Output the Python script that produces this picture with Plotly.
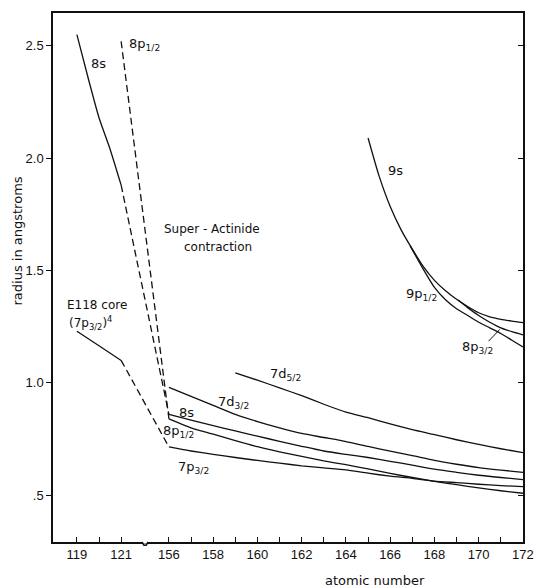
import plotly.graph_objects as go

# ---------------- data ----------------
# low-Z segment (E119-E121) and high-Z segment (E156-E172), axis is broken in between
s8_low_z = [119, 119.5, 120, 120.5, 121]
s8_low_r = [2.55, 2.36, 2.18, 2.04, 1.88]

p8_12_top_z = [121]
p8_12_top_r = [2.52]

core_z = [119, 120, 121]
core_r = [1.23, 1.165, 1.10]

hi_z = [156, 157, 158, 159, 160, 161, 162, 163, 164, 165, 166, 167, 168, 169, 170, 171, 172]
s8_r    = [0.86, 0.834, 0.81, 0.786, 0.763, 0.740, 0.718, 0.697, 0.682, 0.668, 0.651, 0.634, 0.616, 0.602, 0.589, 0.579, 0.570]
p8_12_r = [0.84, 0.80, 0.772, 0.743, 0.716, 0.693, 0.673, 0.653, 0.636, 0.617, 0.597, 0.579, 0.562, 0.547, 0.533, 0.520, 0.509]
p7_32_r = [0.715, 0.697, 0.682, 0.668, 0.655, 0.643, 0.631, 0.622, 0.613, 0.598, 0.585, 0.575, 0.563, 0.556, 0.549, 0.543, 0.538]
d7_32_r = [0.98, 0.94, 0.90, 0.86, 0.828, 0.80, 0.775, 0.757, 0.739, 0.717, 0.696, 0.676, 0.655, 0.638, 0.623, 0.612, 0.602]

d7_52_z = [159, 160, 161, 162, 163, 164, 165, 166, 167, 168, 169, 170, 171, 172]
d7_52_r = [1.045, 1.012, 0.978, 0.943, 0.905, 0.870, 0.845, 0.818, 0.792, 0.770, 0.747, 0.726, 0.707, 0.690]

s9_z = [165, 165.5, 166, 166.5, 167, 167.5, 168, 168.5, 169, 169.5, 170, 170.5, 171, 171.5, 172]
s9_r = [2.09, 1.92, 1.785, 1.68, 1.595, 1.517, 1.456, 1.41, 1.372, 1.34, 1.312, 1.294, 1.283, 1.275, 1.268]

p9_12_z = [166.9, 167.5, 168, 168.5, 169, 169.5, 170, 170.5, 171, 171.5, 172]
p9_12_r = [1.61, 1.505, 1.425, 1.37, 1.33, 1.30, 1.27, 1.245, 1.22, 1.19, 1.16]

p8_32_z = [169.07, 169.5, 170, 170.5, 171, 171.5, 172]
p8_32_r = [1.369, 1.335, 1.30, 1.27, 1.245, 1.228, 1.214]

x_label_z = [119, 121, 156, 158, 160, 162, 164, 166, 168, 170, 172]
x_label_text = ["119", "121", "156", "158", "160", "162", "164", "166", "168", "170", "172"]
x_minor_z = [119, 120, 121] + list(range(156, 173))
y_tick_vals = [0.5, 1.0, 1.5, 2.0, 2.5]
y_tick_labels = [".5", "1.0", "1.5", "2.0", "2.5"]

# ---------------- broken x axis mapping ----------------
GAP = 2.16  # axis units of empty space between 121 and 156


def xpos(z):
    if z <= 121:
        return z - 119
    return z - 156 + 2 + GAP


def X(zs):
    return [xpos(z) for z in zs]


BLACK = "#111111"
solid = dict(color=BLACK, width=1.3, shape="spline", smoothing=0.6)
dashed = dict(color=BLACK, width=1.3, dash="7px,4px")

fig = go.Figure()


def add(zs, rs, line):
    fig.add_trace(go.Scatter(x=X(zs), y=rs, mode="lines", line=line,
                             showlegend=False, hoverinfo="skip"))


# 8s
add(s8_low_z, s8_low_r, solid)
add([s8_low_z[-1], hi_z[0]], [s8_low_r[-1], s8_r[0]], dashed)
add(hi_z, s8_r, solid)
# 8p1/2
add([p8_12_top_z[0], hi_z[0]], [p8_12_top_r[0], p8_12_r[0]], dashed)
add(hi_z, p8_12_r, solid)
# E118 core -> 7p3/2
add(core_z, core_r, solid)
add([core_z[-1], hi_z[0]], [core_r[-1], p7_32_r[0]], dashed)
add(hi_z, p7_32_r, solid)
# 7d3/2, 7d5/2
add(hi_z, d7_32_r, solid)
add(d7_52_z, d7_52_r, solid)
# 9s, 9p1/2, 8p3/2
add(s9_z, s9_r, solid)
add(p9_12_z, p9_12_r, solid)
add(p8_32_z, p8_32_r, solid)

# invisible trace for the right-hand axis
fig.add_trace(go.Scatter(x=[xpos(172)], y=[1.0], yaxis="y2", mode="markers",
                         marker=dict(opacity=0), showlegend=False, hoverinfo="skip"))

FONT = "DejaVu Sans"
TICKFONT = "Liberation Sans"


def label(text, x, y, size=12, xanchor="center"):
    fig.add_annotation(text=text, x=x, y=y, xref="paper", yref="paper",
                       showarrow=False, xanchor=xanchor, yanchor="middle",
                       font=dict(family=FONT, size=size, color=BLACK))


label("8s", 0.096, 0.905, 13)
label("8p<sub>1/2</sub>", 0.157, 0.940, 13, xanchor="left")
label("Super - Actinide", 0.338, 0.591, 12)
label("contraction", 0.351, 0.557, 12)
label("E118 core", 0.094, 0.448, 12)
label("(7p<sub>3/2</sub>)<sup>4</sup>", 0.079, 0.414, 12)
label("8s", 0.285, 0.244, 13)
label("8p<sub>1/2</sub>", 0.268, 0.208, 13)
label("7p<sub>3/2</sub>", 0.298, 0.140, 13)
label("7d<sub>3/2</sub>", 0.383, 0.263, 13)
label("7d<sub>5/2</sub>", 0.494, 0.316, 13)
label("9s", 0.728, 0.703, 13)
label("9p<sub>1/2</sub>", 0.783, 0.467, 13)
label("8p<sub>3/2</sub>", 0.904, 0.367, 13)

# pointer from the 8p3/2 label to its curve
fig.add_shape(type="line", xref="x", yref="y", x0=xpos(170.45), y0=1.186,
              x1=xpos(170.95), y1=1.238, line=dict(color=BLACK, width=1))

# axis titles
fig.add_annotation(text="radius in angstroms", x=-0.0755, y=0.569, xref="paper", yref="paper",
                   xanchor="center", yanchor="middle",
                   textangle=-90, showarrow=False, font=dict(family=FONT, size=13, color=BLACK))
fig.add_annotation(text="atomic number", x=0.685, y=-0.072, xref="paper", yref="paper",
                   xanchor="center", yanchor="middle",
                   showarrow=False, font=dict(family=FONT, size=13, color=BLACK))

# break mark on the x axis
c = 2 + GAP / 2
fig.add_shape(type="rect", xref="x", yref="paper", x0=c - 0.12, x1=c + 0.12, y0=-0.003, y1=0.003,
              line=dict(width=0), fillcolor="white", layer="above")
fig.add_shape(type="path", xref="x", yref="paper", layer="above",
              path=f"M {c-0.14},0 L {c-0.05},-0.006 L {c+0.05},-0.006 L {c+0.14},0",
              line=dict(color=BLACK, width=1.5))

fig.update_layout(
    width=534, height=587,
    margin=dict(l=53, r=11, t=13, b=45, autoexpand=False),
    paper_bgcolor="white", plot_bgcolor="white",
    font=dict(family=FONT, size=12, color=BLACK),
    xaxis=dict(range=[-1.08, xpos(172) + 0.002], tickvals=X(x_label_z), ticktext=x_label_text,
               automargin=False,
               ticks="inside", ticklen=5, tickcolor=BLACK, showgrid=False, zeroline=False,
               showline=True, linecolor=BLACK, linewidth=1.5, mirror=True,
               minor=dict(tickvals=X(x_minor_z), ticks="inside", ticklen=5, tickcolor=BLACK,
                          showgrid=False),
               tickfont=dict(family=TICKFONT, size=13, color=BLACK)),
    yaxis=dict(range=[0.292, 2.646], tickvals=y_tick_vals, ticktext=y_tick_labels,
               automargin=False,
               ticks="outside", ticklen=5, tickcolor=BLACK, showgrid=False, zeroline=False,
               showline=True, linecolor=BLACK, linewidth=1.5,
               tickfont=dict(family=TICKFONT, size=13, color=BLACK)),
    yaxis2=dict(range=[0.292, 2.646], overlaying="y", side="right", tickvals=y_tick_vals,
                automargin=False,
                showticklabels=False, ticks="inside", ticklen=5, tickcolor=BLACK,
                showgrid=False, zeroline=False, showline=True, linecolor=BLACK, linewidth=1.5),
)

fig.write_html("out.html")
